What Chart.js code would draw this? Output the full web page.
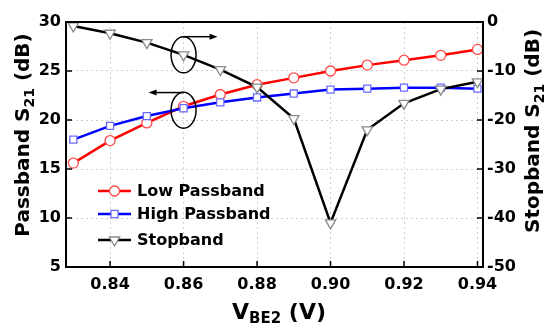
<!DOCTYPE html>
<html>
<head>
<meta charset="utf-8">
<script src="https://cdn.jsdelivr.net/npm/chart.js@4"></script>
<style>
  html, body { margin: 0; padding: 0; background: #fff; }
</style>
</head>
<body>
<canvas id="grafico" width="545" height="331"></canvas>
<script>
// data
var vbe = [0.83, 0.84, 0.85, 0.86, 0.87, 0.88, 0.89, 0.90, 0.91, 0.92, 0.93, 0.94];
var lowPassband = [15.6, 17.9, 19.7, 21.4, 22.6, 23.6, 24.3, 25.0, 25.6, 26.1, 26.6, 27.2];
var highPassband = [18.0, 19.4, 20.4, 21.2, 21.8, 22.3, 22.7, 23.1, 23.2, 23.3, 23.3, 23.2];
var stopband = [-0.8, -2.3, -4.2, -6.7, -9.7, -13.3, -19.7, -41.0, -22.0, -16.6, -13.7, -12.2];

var xTicks = [0.84, 0.86, 0.88, 0.90, 0.92, 0.94];
var leftTicks = [5, 10, 15, 20, 25, 30];
var rightTicks = [-50, -40, -30, -20, -10, 0];

var FONT = "DejaVu Sans";

function pts(ys) {
  return vbe.map(function (v, i) { return { x: v, y: ys[i] }; });
}

var canvasElement = document.getElementById("grafico");

// frame, inner ticks, axis titles, legend, annotation ellipses
var extras = {
  id: "extras",
  afterDatasetsDraw: function (chart) {
    var ctx = chart.ctx;
    var a = chart.chartArea;
    var sx = chart.scales.x, sy = chart.scales.y, sy1 = chart.scales.y1;
    ctx.save();

    // ellipses + arrows
    ctx.strokeStyle = "#000";
    ctx.fillStyle = "#000";
    ctx.lineWidth = 1.5;
    var cx = sx.getPixelForValue(0.86);
    var e1 = sy1.getPixelForValue(-6.7);
    var e2 = sy.getPixelForValue(21.0);
    [e1, e2].forEach(function (cy) {
      ctx.beginPath();
      ctx.ellipse(cx, cy, 12.5, 18, 0, 0, Math.PI * 2);
      ctx.stroke();
    });
    function arrow(x0, x1, y) {
      var dir = x1 > x0 ? 1 : -1;
      ctx.beginPath();
      ctx.moveTo(x0, y);
      ctx.lineTo(x1 - dir * 6, y);
      ctx.stroke();
      ctx.beginPath();
      ctx.moveTo(x1, y);
      ctx.lineTo(x1 - dir * 8, y - 3);
      ctx.lineTo(x1 - dir * 8, y + 3);
      ctx.closePath();
      ctx.fill();
    }
    arrow(cx, cx + 34, sy1.getPixelForValue(-3.0));
    arrow(cx, cx - 35, sy.getPixelForValue(22.8));

    // frame
    ctx.lineWidth = 2;
    ctx.strokeRect(a.left, a.top, a.right - a.left, a.bottom - a.top);
    ctx.lineWidth = 1.5;
    ctx.beginPath();
    xTicks.forEach(function (v) {
      var px = sx.getPixelForValue(v);
      ctx.moveTo(px, a.bottom);
      ctx.lineTo(px, a.bottom - 6);
    });
    leftTicks.forEach(function (v) {
      var py = sy.getPixelForValue(v);
      ctx.moveTo(a.left, py);
      ctx.lineTo(a.left + 6, py);
    });
    rightTicks.forEach(function (v) {
      var py = sy1.getPixelForValue(v);
      ctx.moveTo(a.right, py);
      ctx.lineTo(a.right - 6, py);
    });
    ctx.stroke();

    // legend
    var rows = [169, 192, 218];
    chart.data.datasets.forEach(function (ds, i) {
      var y = a.top + rows[i];
      var x0 = a.left + 32, x1 = a.left + 65;
      ctx.strokeStyle = ds.borderColor;
      ctx.lineWidth = ds.borderWidth;
      ctx.beginPath();
      ctx.moveTo(x0, y);
      ctx.lineTo(x1, y);
      ctx.stroke();
      ctx.fillStyle = "#fff";
      ctx.strokeStyle = ds.pointBorderColor;
      ctx.lineWidth = ds.pointBorderWidth;
      Chart.helpers.drawPoint(ctx, {
        pointStyle: ds.pointStyle,
        rotation: ds.rotation || 0,
        radius: ds.pointRadius,
        borderWidth: ds.pointBorderWidth
      }, (x0 + x1) / 2, y);
      ctx.fillStyle = "#000";
      ctx.font = "bold 16px " + FONT;
      ctx.textAlign = "left";
      ctx.textBaseline = "middle";
      ctx.fillText(ds.label, a.left + 71, y + 1);
    });

    // axis titles with subscripts
    function subText(parts, size) {
      var w = 0;
      parts.forEach(function (p) {
        ctx.font = "bold " + (p[1] ? Math.round(size * 0.68) : size) + "px " + FONT;
        w += ctx.measureText(p[0]).width;
      });
      var x = -w / 2;
      parts.forEach(function (p) {
        ctx.font = "bold " + (p[1] ? Math.round(size * 0.68) : size) + "px " + FONT;
        ctx.fillText(p[0], x, p[1] ? size * 0.3 : 0);
        x += ctx.measureText(p[0]).width;
      });
    }
    ctx.fillStyle = "#000";
    ctx.textAlign = "left";
    ctx.textBaseline = "middle";

    ctx.save();
    ctx.translate(24, 135);
    ctx.rotate(-Math.PI / 2);
    subText([["Passband S", false], ["21", true], [" (dB)", false]], 20);
    ctx.restore();

    ctx.save();
    ctx.translate(534, 131);
    ctx.rotate(-Math.PI / 2);
    subText([["Stopband S", false], ["21", true], [" (dB)", false]], 20);
    ctx.restore();

    ctx.save();
    ctx.translate(279, 313);
    subText([["V", false], ["BE2", true], [" (V)", false]], 22);
    ctx.restore();

    ctx.restore();
  }
};

var tickFont = { family: FONT, size: 16, weight: "bold" };
var gridStyle = { color: "#cfcfcf", lineWidth: 1, drawTicks: false };

var config = {
  type: "line",
  data: {
    datasets: [
      {
        label: "Low Passband",
        data: pts(lowPassband),
        yAxisID: "y",
        borderColor: "#ff0000",
        borderWidth: 2.5,
        pointStyle: "circle",
        pointRadius: 5,
        pointBackgroundColor: "#ffffff",
        pointBorderColor: "#ff4a4a",
        pointBorderWidth: 1.3,
        order: 2
      },
      {
        label: "High Passband",
        data: pts(highPassband),
        yAxisID: "y",
        borderColor: "#0000ff",
        borderWidth: 2.5,
        pointStyle: "rect",
        pointRadius: 5,
        pointBackgroundColor: "#ffffff",
        pointBorderColor: "#6b6bff",
        pointBorderWidth: 1.3,
        order: 1
      },
      {
        label: "Stopband",
        data: pts(stopband),
        yAxisID: "y1",
        borderColor: "#000000",
        borderWidth: 2.5,
        pointStyle: "triangle",
        rotation: 180,
        pointRadius: 6,
        pointBackgroundColor: "#ffffff",
        pointBorderColor: "#8a8a8a",
        pointBorderWidth: 1.3,
        order: 0
      }
    ]
  },
  options: {
    responsive: false,
    animation: false,
    devicePixelRatio: 1,
    layout: { padding: { top: 22, left: 0, right: 0, bottom: 0 } },
    plugins: { legend: { display: false }, tooltip: { enabled: false } },
    elements: { line: { tension: 0 } },
    scales: {
      x: {
        type: "linear",
        min: 0.828,
        max: 0.9415,
        afterBuildTicks: function (s) { s.ticks = xTicks.map(function (v) { return { value: v }; }); },
        afterFit: function (s) { s.height = 64; },
        ticks: { font: tickFont, color: "#000", padding: 8, maxRotation: 0,
                 callback: function (v) { return v.toFixed(2); } },
        grid: gridStyle,
        border: { display: false, dash: [2, 3] }
      },
      y: {
        position: "left",
        min: 5,
        max: 30,
        afterBuildTicks: function (s) { s.ticks = leftTicks.map(function (v) { return { value: v }; }); },
        afterFit: function (s) { s.width = 66; },
        ticks: { font: tickFont, color: "#000", padding: 5 },
        grid: gridStyle,
        border: { display: false, dash: [2, 3] }
      },
      y1: {
        position: "right",
        min: -50,
        max: 0,
        afterBuildTicks: function (s) { s.ticks = rightTicks.map(function (v) { return { value: v }; }); },
        afterFit: function (s) { s.width = 62; },
        ticks: { font: tickFont, color: "#000", padding: 4 },
        grid: { display: false, drawTicks: false },
        border: { display: false }
      }
    }
  },
  plugins: [extras]
};

var graficoS21 = new Chart(canvasElement, config);
</script>
</body>
</html>
